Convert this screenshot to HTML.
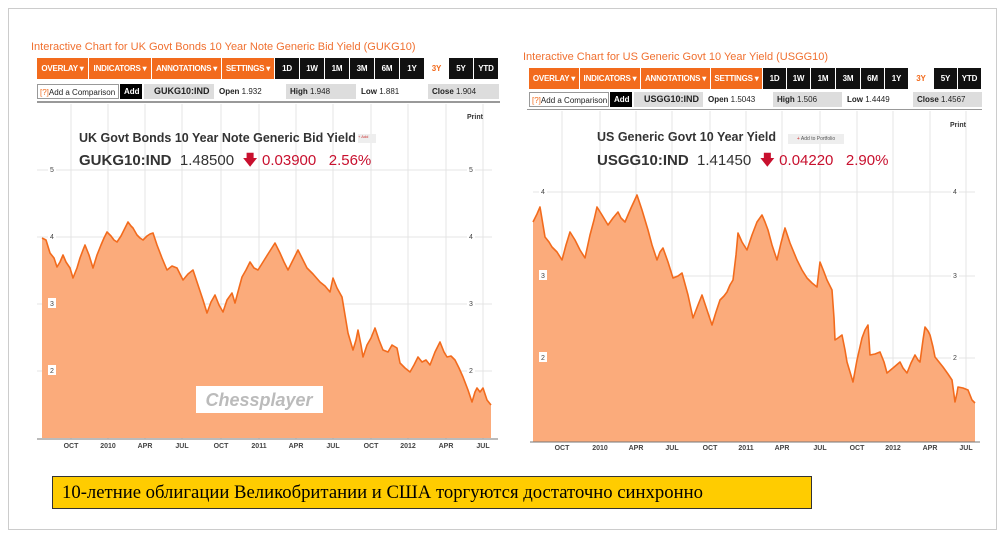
<!DOCTYPE html>
<html><head><meta charset="utf-8"><style>
body{margin:0;width:1004px;height:539px;background:#fff;position:relative;overflow:hidden;font-family:"Liberation Sans",Arial,sans-serif}
.a{position:absolute;white-space:nowrap}
.tb{position:absolute;height:21px;color:#fff;font-weight:bold;font-size:8px;line-height:21px;text-align:center;box-sizing:border-box;border-right:1px solid #fff;white-space:nowrap;overflow:hidden;letter-spacing:-0.2px}
.o{background:#f26b1d}.k{background:#111}.w{background:#fff;color:#f26b1d}
.r2{position:absolute;height:15px;font-size:8px;line-height:15px;box-sizing:border-box;padding-left:4px;color:#222;white-space:nowrap;overflow:hidden}
.g{background:#ddd}
</style></head><body>
<div class="a" style="left:8px;top:8px;width:987px;height:520px;border:1px solid #ccc"></div>

<div class="a" style="left:31px;top:41px;font-size:11px;color:#f07030">Interactive Chart for UK Govt Bonds 10 Year Note Generic Bid Yield (GUKG10)</div>
<div class="a" style="left:523px;top:51px;font-size:11px;color:#f07030">Interactive Chart for US Generic Govt 10 Year Yield (USGG10)</div>

<div class="tb o" style="left:37px;top:58px;width:52px">OVERLAY ▾</div>
<div class="tb o" style="left:89px;top:58px;width:63px">INDICATORS ▾</div>
<div class="tb o" style="left:152px;top:58px;width:70px">ANNOTATIONS ▾</div>
<div class="tb o" style="left:222px;top:58px;width:53px">SETTINGS ▾</div>
<div class="tb k" style="left:275px;top:58px;width:25px">1D</div>
<div class="tb k" style="left:300px;top:58px;width:25px">1W</div>
<div class="tb k" style="left:325px;top:58px;width:25px">1M</div>
<div class="tb k" style="left:350px;top:58px;width:25px">3M</div>
<div class="tb k" style="left:375px;top:58px;width:25px">6M</div>
<div class="tb k" style="left:400px;top:58px;width:25px">1Y</div>
<div class="tb w" style="left:425px;top:58px;width:24px">3Y</div>
<div class="tb k" style="left:449px;top:58px;width:25px">5Y</div>
<div class="tb k" style="left:474px;top:58px;width:25px">YTD</div>
<div class="r2" style="left:37px;top:84px;width:82px;border:1px solid #999;padding-left:2px"><span style="color:#f26b1d">[?]</span>Add a Comparison</div>
<div class="r2" style="left:120px;top:84px;width:22px;background:#000;color:#fff;font-weight:bold">Add</div>
<div class="r2 g" style="left:144px;top:84px;width:70px;padding-left:10px;font-weight:bold;font-size:9px">GUKG10:IND</div>
<div class="r2" style="left:215px;top:84px;width:70px"><b>Open</b> 1.932</div>
<div class="r2 g" style="left:286px;top:84px;width:70px"><b>High</b> 1.948</div>
<div class="r2" style="left:357px;top:84px;width:70px"><b>Low</b> 1.881</div>
<div class="r2 g" style="left:428px;top:84px;width:71px"><b>Close</b> 1.904</div>
<div class="a" style="left:37px;top:101px;width:463px;height:2px;background:#999"></div>

<div class="tb o" style="left:529px;top:68px;width:51px">OVERLAY ▾</div>
<div class="tb o" style="left:580px;top:68px;width:61px">INDICATORS ▾</div>
<div class="tb o" style="left:641px;top:68px;width:70px">ANNOTATIONS ▾</div>
<div class="tb o" style="left:711px;top:68px;width:52px">SETTINGS ▾</div>
<div class="tb k" style="left:763px;top:68px;width:24px">1D</div>
<div class="tb k" style="left:787px;top:68px;width:24px">1W</div>
<div class="tb k" style="left:811px;top:68px;width:25px">1M</div>
<div class="tb k" style="left:836px;top:68px;width:25px">3M</div>
<div class="tb k" style="left:861px;top:68px;width:24px">6M</div>
<div class="tb k" style="left:885px;top:68px;width:24px">1Y</div>
<div class="tb w" style="left:909px;top:68px;width:25px">3Y</div>
<div class="tb k" style="left:934px;top:68px;width:24px">5Y</div>
<div class="tb k" style="left:958px;top:68px;width:24px">YTD</div>
<div class="r2" style="left:529px;top:92px;width:80px;border:1px solid #999;padding-left:2px"><span style="color:#f26b1d">[?]</span>Add a Comparison</div>
<div class="r2" style="left:610px;top:92px;width:22px;background:#000;color:#fff;font-weight:bold">Add</div>
<div class="r2 g" style="left:634px;top:92px;width:69px;padding-left:10px;font-weight:bold;font-size:9px">USGG10:IND</div>
<div class="r2" style="left:704px;top:92px;width:68px"><b>Open</b> 1.5043</div>
<div class="r2 g" style="left:773px;top:92px;width:69px"><b>High</b> 1.506</div>
<div class="r2" style="left:843px;top:92px;width:69px"><b>Low</b> 1.4449</div>
<div class="r2 g" style="left:913px;top:92px;width:69px"><b>Close</b> 1.4567</div>
<div class="a" style="left:527px;top:109px;width:455px;height:1px;background:#999"></div>

<svg class="a" style="left:0;top:0" width="1004" height="539" font-family="Liberation Sans,Arial,sans-serif">
<g stroke="#e4e4e4" stroke-width="1">
<line x1="71" y1="104" x2="71" y2="439"/><line x1="108" y1="104" x2="108" y2="439"/><line x1="145" y1="104" x2="145" y2="439"/><line x1="182" y1="104" x2="182" y2="439"/><line x1="221" y1="104" x2="221" y2="439"/><line x1="259" y1="104" x2="259" y2="439"/><line x1="296" y1="104" x2="296" y2="439"/><line x1="333" y1="104" x2="333" y2="439"/><line x1="371" y1="104" x2="371" y2="439"/><line x1="408" y1="104" x2="408" y2="439"/><line x1="446" y1="104" x2="446" y2="439"/><line x1="483" y1="104" x2="483" y2="439"/>
<line x1="37" y1="170" x2="492" y2="170"/><line x1="37" y1="237" x2="492" y2="237"/><line x1="37" y1="304" x2="492" y2="304"/><line x1="37" y1="371" x2="492" y2="371"/>
<line x1="562" y1="111" x2="562" y2="442"/><line x1="600" y1="111" x2="600" y2="442"/><line x1="636" y1="111" x2="636" y2="442"/><line x1="672" y1="111" x2="672" y2="442"/><line x1="710" y1="111" x2="710" y2="442"/><line x1="746" y1="111" x2="746" y2="442"/><line x1="782" y1="111" x2="782" y2="442"/><line x1="820" y1="111" x2="820" y2="442"/><line x1="857" y1="111" x2="857" y2="442"/><line x1="893" y1="111" x2="893" y2="442"/><line x1="930" y1="111" x2="930" y2="442"/><line x1="966" y1="111" x2="966" y2="442"/>
<line x1="533" y1="192" x2="975" y2="192"/><line x1="533" y1="276" x2="975" y2="276"/><line x1="533" y1="358" x2="975" y2="358"/>
</g>
<polygon fill="#fbab7b" points="42,438 42,238 46,240 50,253 54,258 57,267 60,262 63,255 66,262 70,268 73,278 77,268 80,258 83,250 85,245 89,255 93,268 97,255 101,245 104,238 107,232 111,236 114,240 117,242 121,236 125,228 128,222 131,226 133,228 137,235 140,238 143,240 147,236 150,234 153,233 157,245 162,258 167,270 172,266 177,268 180,274 183,280 188,274 193,270 198,285 203,300 207,313 211,302 215,295 219,305 223,312 227,300 232,293 235,303 239,288 242,277 246,270 250,262 254,268 258,270 263,262 268,254 275,243 280,253 284,262 288,270 292,262 298,250 302,258 307,268 313,274 320,282 325,286 330,292 333,278 337,288 342,297 345,315 348,333 353,350 356,340 358,330 361,345 363,357 367,345 371,338 375,328 379,340 383,350 388,352 392,345 397,348 400,363 405,368 410,372 414,365 418,357 422,362 426,360 430,365 435,352 440,342 444,352 447,357 451,356 455,360 459,368 463,377 468,390 472,402 475,392 477,388 480,392 483,388 487,400 491,405 491,438"/>
<polyline fill="none" stroke="#f26b1d" stroke-width="1.6" stroke-linejoin="round" points="42,238 46,240 50,253 54,258 57,267 60,262 63,255 66,262 70,268 73,278 77,268 80,258 83,250 85,245 89,255 93,268 97,255 101,245 104,238 107,232 111,236 114,240 117,242 121,236 125,228 128,222 131,226 133,228 137,235 140,238 143,240 147,236 150,234 153,233 157,245 162,258 167,270 172,266 177,268 180,274 183,280 188,274 193,270 198,285 203,300 207,313 211,302 215,295 219,305 223,312 227,300 232,293 235,303 239,288 242,277 246,270 250,262 254,268 258,270 263,262 268,254 275,243 280,253 284,262 288,270 292,262 298,250 302,258 307,268 313,274 320,282 325,286 330,292 333,278 337,288 342,297 345,315 348,333 353,350 356,340 358,330 361,345 363,357 367,345 371,338 375,328 379,340 383,350 388,352 392,345 397,348 400,363 405,368 410,372 414,365 418,357 422,362 426,360 430,365 435,352 440,342 444,352 447,357 451,356 455,360 459,368 463,377 468,390 472,402 475,392 477,388 480,392 483,388 487,400 491,405"/>
<polygon fill="#fbab7b" points="533,442 533,222 537,214 540,207 543,225 545,237 549,242 552,247 557,252 562,260 566,245 570,232 575,240 580,250 585,258 590,235 594,220 597,207 602,215 608,225 613,218 618,212 621,218 625,222 631,208 637,195 642,210 648,230 652,245 657,260 660,252 663,248 668,262 673,278 678,276 682,273 688,295 693,318 698,305 702,295 707,310 712,325 716,312 720,300 724,296 727,292 730,285 733,280 736,255 738,233 742,242 747,250 752,235 757,222 762,215 765,222 768,230 772,245 777,260 781,243 785,228 790,243 797,260 802,270 807,278 812,283 817,287 820,262 824,272 827,280 830,286 832,290 834,318 835,340 838,338 842,335 845,350 847,362 850,372 853,382 857,360 862,338 865,330 868,325 870,355 875,354 880,352 884,362 887,373 893,368 900,362 903,368 907,373 911,363 915,355 918,360 920,362 923,340 925,327 928,331 930,335 933,347 935,357 939,362 943,367 948,374 952,380 955,402 957,393 958,387 963,388 968,390 972,400 975,403 975,442"/>
<polyline fill="none" stroke="#f26b1d" stroke-width="1.6" stroke-linejoin="round" points="533,222 537,214 540,207 543,225 545,237 549,242 552,247 557,252 562,260 566,245 570,232 575,240 580,250 585,258 590,235 594,220 597,207 602,215 608,225 613,218 618,212 621,218 625,222 631,208 637,195 642,210 648,230 652,245 657,260 660,252 663,248 668,262 673,278 678,276 682,273 688,295 693,318 698,305 702,295 707,310 712,325 716,312 720,300 724,296 727,292 730,285 733,280 736,255 738,233 742,242 747,250 752,235 757,222 762,215 765,222 768,230 772,245 777,260 781,243 785,228 790,243 797,260 802,270 807,278 812,283 817,287 820,262 824,272 827,280 830,286 832,290 834,318 835,340 838,338 842,335 845,350 847,362 850,372 853,382 857,360 862,338 865,330 868,325 870,355 875,354 880,352 884,362 887,373 893,368 900,362 903,368 907,373 911,363 915,355 918,360 920,362 923,340 925,327 928,331 930,335 933,347 935,357 939,362 943,367 948,374 952,380 955,402 957,393 958,387 963,388 968,390 972,400 975,403"/>
<line x1="37" y1="439" x2="498" y2="439" stroke="#777" stroke-width="1"/>
<line x1="530" y1="442" x2="980" y2="442" stroke="#777" stroke-width="1"/>
<g font-size="7" fill="#444" text-anchor="middle">
<rect x="48" y="164" width="8" height="10" fill="#fff"/><text x="52" y="172">5</text>
<rect x="48" y="231" width="8" height="10" fill="#fff"/><text x="52" y="239">4</text>
<rect x="48" y="298" width="8" height="10" fill="#fff"/><text x="52" y="306">3</text>
<rect x="48" y="365" width="8" height="10" fill="#fff"/><text x="52" y="373">2</text>
<rect x="467" y="164" width="8" height="10" fill="#fff"/><text x="471" y="172">5</text>
<rect x="467" y="231" width="8" height="10" fill="#fff"/><text x="471" y="239">4</text>
<rect x="467" y="298" width="8" height="10" fill="#fff"/><text x="471" y="306">3</text>
<rect x="467" y="365" width="8" height="10" fill="#fff"/><text x="471" y="373">2</text>
<rect x="539" y="186" width="8" height="10" fill="#fff"/><text x="543" y="194">4</text>
<rect x="539" y="270" width="8" height="10" fill="#fff"/><text x="543" y="278">3</text>
<rect x="539" y="352" width="8" height="10" fill="#fff"/><text x="543" y="360">2</text>
<rect x="951" y="186" width="8" height="10" fill="#fff"/><text x="955" y="194">4</text>
<rect x="951" y="270" width="8" height="10" fill="#fff"/><text x="955" y="278">3</text>
<rect x="951" y="352" width="8" height="10" fill="#fff"/><text x="955" y="360">2</text>
</g>
<g font-size="7" font-weight="bold" fill="#444" text-anchor="middle">
<text x="71" y="448">OCT</text><text x="108" y="448">2010</text><text x="145" y="448">APR</text><text x="182" y="448">JUL</text><text x="221" y="448">OCT</text><text x="259" y="448">2011</text><text x="296" y="448">APR</text><text x="333" y="448">JUL</text><text x="371" y="448">OCT</text><text x="408" y="448">2012</text><text x="446" y="448">APR</text><text x="483" y="448">JUL</text>
<text x="562" y="450">OCT</text><text x="600" y="450">2010</text><text x="636" y="450">APR</text><text x="672" y="450">JUL</text><text x="710" y="450">OCT</text><text x="746" y="450">2011</text><text x="782" y="450">APR</text><text x="820" y="450">JUL</text><text x="857" y="450">OCT</text><text x="893" y="450">2012</text><text x="930" y="450">APR</text><text x="966" y="450">JUL</text>
</g>
<rect x="196" y="386" width="127" height="27" fill="#fff"/>
<text x="259" y="406" font-size="18" font-weight="bold" font-style="italic" fill="#bbb" text-anchor="middle">Chessplayer</text>
<text x="467" y="119" font-size="7" font-weight="bold" fill="#333">Print</text>
<text x="950" y="127" font-size="7" font-weight="bold" fill="#333">Print</text>
</svg>

<div class="a" style="left:79px;top:131px;font-size:12.5px;font-weight:bold;color:#333">UK Govt Bonds 10 Year Note Generic Bid Yield</div>
<div class="a" style="left:358px;top:134px;width:18px;height:9px;background:#eee;font-size:4px;color:#c33">+ Add</div>
<div class="a" style="left:79px;top:150px;font-size:15px;color:#333"><b>GUKG10:IND</b>&nbsp; 1.48500 &nbsp;<span style="color:#c8102e">🡇 0.03900 &nbsp; 2.56%</span></div>
<div class="a" style="left:597px;top:130px;font-size:12.5px;font-weight:bold;color:#333">US Generic Govt 10 Year Yield</div>
<div class="a" style="left:788px;top:134px;width:56px;height:10px;background:#eee;font-size:5px;line-height:10px;color:#555;text-align:center"><span style="color:#c33">+</span> Add to Portfolio</div>
<div class="a" style="left:597px;top:150px;font-size:15px;color:#333"><b>USGG10:IND</b>&nbsp; 1.41450 &nbsp;<span style="color:#c8102e">🡇 0.04220 &nbsp; 2.90%</span></div>

<div class="a" style="left:52px;top:476px;height:31px;background:#ffcc00;border:1px solid #333;font-family:'Liberation Serif','DejaVu Serif',serif;font-size:18.7px;line-height:31px;padding-left:9px;width:749px">10-летние облигации Великобритании и США торгуются достаточно синхронно</div>
</body></html>
